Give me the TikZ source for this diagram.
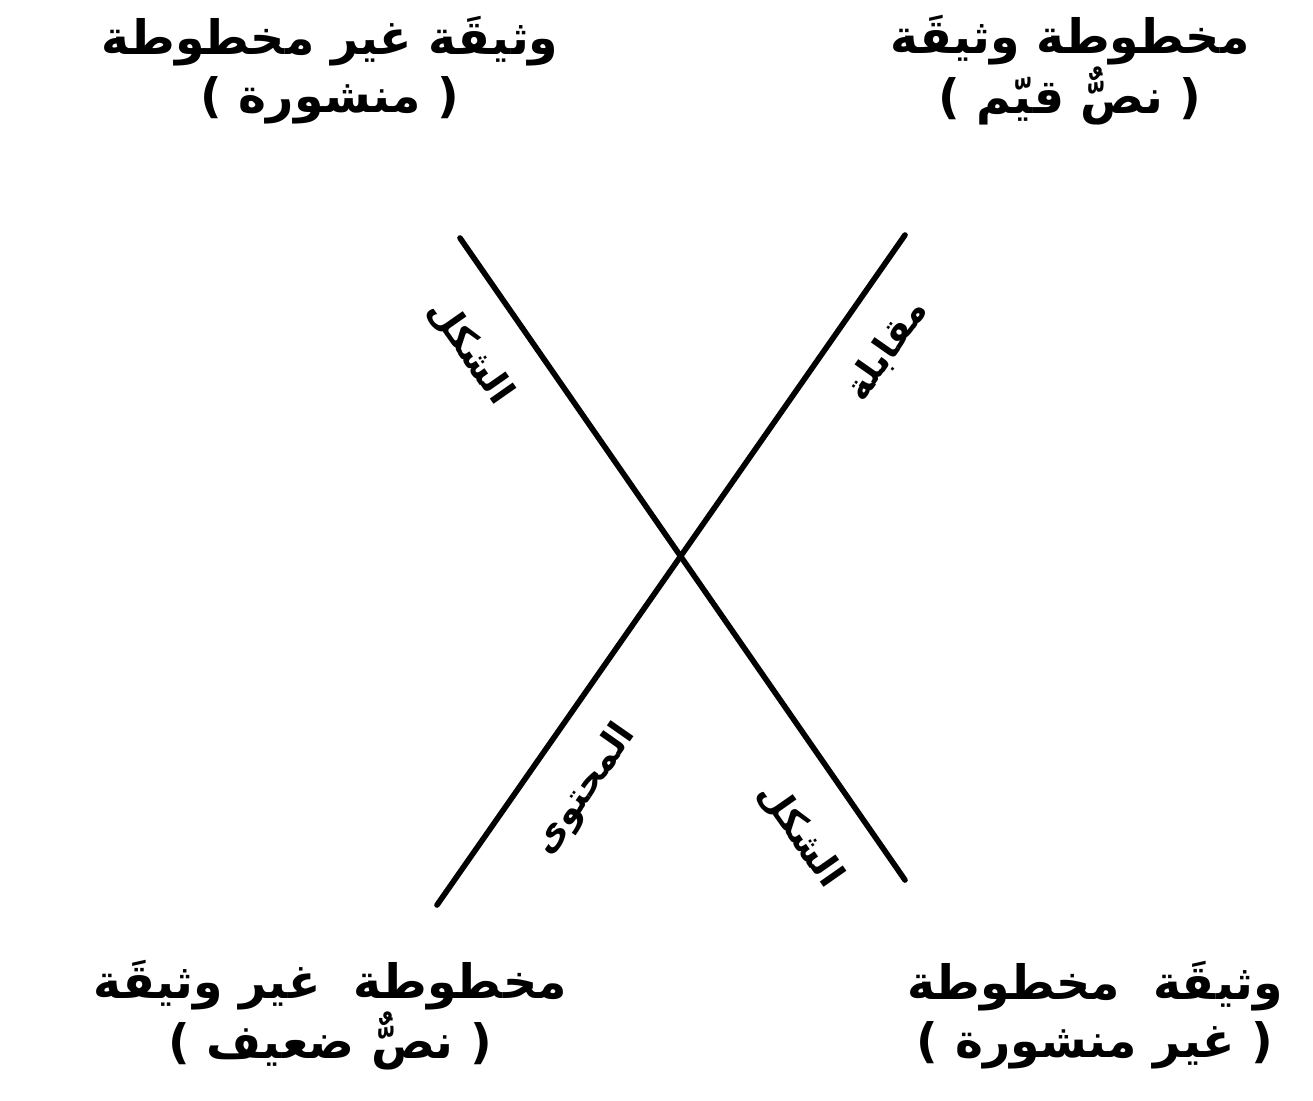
\documentclass[tikz,border=0pt]{standalone}
\usepackage{fontspec}
\newfontfamily\arabicfont[Script=Arabic]{DejaVu Sans}
\TeXXeTstate=1
\usetikzlibrary{positioning}

\begin{document}
\begin{tikzpicture}[
  x=0.02cm, y=-0.02cm,
  axis/.style   = {line width=3.2pt, line cap=round},
  corner/.style = {align=center, inner sep=0pt, font=\arabicfont\bfseries\fontsize{27}{33}\selectfont},
  tag/.style    = {inner sep=0pt, font=\arabicfont\bfseries\fontsize{21}{25}\selectfont},
]
  \useasboundingbox (0,0) rectangle (1313,1100);

  % the four kinds of text
  \node[corner] (tl) at (330,70)   {\beginR وثيقَة غير مخطوطة\endR\\\beginR( منشورة )\endR};
  \node[corner] (tr) at (1070,70)  {\beginR مخطوطة وثيقَة\endR\\\beginR( نصٌّ قيّم )\endR};
  \node[corner] (bl) at (330,1015) {\beginR مخطوطة \ غير وثيقَة\endR\\\beginR( نصٌّ ضعيف )\endR};
  \node[corner] (br) at (1095,1015){\beginR وثيقَة \ مخطوطة\endR\\\beginR( غير منشورة )\endR};

  % the two axes
  \coordinate (formtop) at (460,238);
  \coordinate (formbot) at (905,880);
  \coordinate (conttop) at (905,235);
  \coordinate (contbot) at (437,905);

  \draw[axis] (formtop) -- (formbot);
  \draw[axis] (contbot) -- (conttop);

  \node[tag, rotate=-55] (formup)  at (470,352) {\beginR الشكل\endR};
  \node[tag, rotate=55]  (contup)  at (887,350) {\beginR مقابلة\endR};
  \node[tag, rotate=55]  (contlow) at (585,790) {\beginR المحتوى\endR};
  \node[tag, rotate=-55] (formlow) at (800,835) {\beginR الشكل\endR};
\end{tikzpicture}
\end{document}
